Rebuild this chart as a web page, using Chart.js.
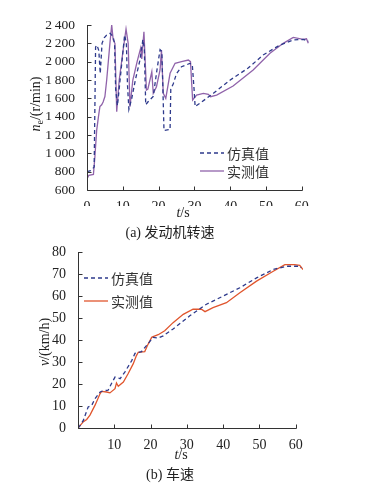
<!DOCTYPE html>
<html>
<head>
<meta charset="utf-8">
<script src="https://cdn.jsdelivr.net/npm/chart.js@4.4.1/dist/chart.umd.min.js"></script>
<style>
  body { margin: 0; background: #fff; }
  #wrap { position: relative; width: 376px; height: 487px; overflow: hidden; }
  canvas { position: absolute; left: 0; }
  .txt { position: absolute; white-space: nowrap; color: #222; font-family: "Liberation Serif", "Noto Sans CJK SC", serif; font-size: 14px; line-height: 1; }
  .ylab { transform: translate(-50%, -50%) rotate(-90deg); }
  .ctr { transform: translate(-50%, -50%); }
  .cjk { font-family: "Noto Sans CJK SC", sans-serif; }
  .leg { position: absolute; display: flex; align-items: center; font-family: "Noto Sans CJK SC", sans-serif; font-size: 14px; color: #333; line-height: 1; transform: translateY(-50%); }
  .leg svg { margin-right: 3px; }
</style>
</head>
<body>
<div id="wrap">
  <canvas id="engine" width="376" height="206" style="top:0"></canvas>
  <canvas id="speed" width="376" height="210" style="top:240px"></canvas>

  <div class="txt ylab" style="left:37px; top:104px"><i>n</i><sub style="font-size:10px">e</sub>/(r/min)</div>
  <div class="txt ctr" style="left:183px; top:213px"><i>t</i>/s</div>
  <div class="txt ctr" style="left:170px; top:232px">(a) <span class="cjk">发动机转速</span></div>

  <div class="leg" style="left:200px; top:153px"><svg width="24" height="6"><line x1="0" y1="3" x2="24" y2="3" stroke="#2e3a8c" stroke-width="1.3" stroke-dasharray="4,3"/></svg>仿真值</div>
  <div class="leg" style="left:200px; top:171px"><svg width="24" height="6"><line x1="0" y1="3" x2="24" y2="3" stroke="#9063aa" stroke-width="1.3"/></svg>实测值</div>

  <div class="txt ylab" style="left:45px; top:342px"><i>v</i>/(km/h)</div>
  <div class="txt ctr" style="left:181px; top:455px"><i>t</i>/s</div>
  <div class="txt ctr" style="left:170px; top:474px">(b) <span class="cjk">车速</span></div>

  <div class="leg" style="left:84px; top:278px"><svg width="24" height="6"><line x1="0" y1="3" x2="24" y2="3" stroke="#2e3a8c" stroke-width="1.3" stroke-dasharray="4,3"/></svg>仿真值</div>
  <div class="leg" style="left:84px; top:301px"><svg width="24" height="6"><line x1="0" y1="3" x2="24" y2="3" stroke="#e0552d" stroke-width="1.3"/></svg>实测值</div>
</div>

<script>
// (a) engine speed, r/min
const engSimT = [0, 1.0, 2.0, 2.2, 2.4, 2.8, 3.3, 3.7, 4.2, 4.8, 5.5, 6.5, 7.3, 7.7, 8.0, 8.5, 9.5, 10.5, 11.0, 11.3, 11.7, 12.5, 13.5, 14.8, 15.6, 16.0, 16.4, 17.0, 18.5, 19.5, 20.4, 20.9, 21.2, 21.5, 23.2, 23.4, 24.1, 25.0, 26.4, 28.7, 29.4, 29.9, 30.2, 32.0, 35.3, 40.0, 45.0, 49.2, 53.9, 57.6, 60.5, 61.8];
const engSim  = [800, 810, 850, 1500, 2160, 2180, 2120, 1870, 2200, 2260, 2290, 2310, 2270, 2200, 1700, 1520, 1900, 2290, 2200, 1750, 1480, 1600, 1800, 2020, 2240, 2150, 1530, 1560, 1620, 1900, 2130, 2110, 1700, 1250, 1260, 1700, 1760, 1870, 1945, 1980, 1970, 1700, 1510, 1560, 1655, 1800, 1930, 2073, 2182, 2236, 2243, 2222];
const engMeaT = [0, 0.5, 1.8, 2.2, 2.7, 3.2, 3.6, 4.1, 4.5, 5.0, 5.5, 6.4, 6.9, 7.3, 7.8, 8.3, 9.0, 10.0, 10.9, 11.5, 12.0, 12.8, 14.0, 15.0, 15.3, 15.9, 16.6, 17.0, 18.1, 18.5, 19.4, 20.4, 20.8, 21.3, 22.0, 23.2, 24.6, 26.4, 28.3, 28.9, 29.5, 30.6, 32.5, 33.9, 34.5, 36.2, 40.8, 46.4, 51.1, 54.8, 57.6, 60.4, 61.3, 61.8];
const engMea  = [720, 760, 770, 960, 1250, 1400, 1510, 1530, 1560, 1620, 1800, 2200, 2400, 2240, 2200, 1454, 1800, 2100, 2356, 2200, 1509, 1800, 2000, 2150, 2030, 2327, 1690, 1700, 1890, 1655, 1727, 1909, 2127, 1655, 1600, 1873, 1982, 2000, 2018, 2000, 1582, 1636, 1655, 1644, 1618, 1636, 1735, 1909, 2091, 2200, 2265, 2243, 2250, 2200];
const engTicksY = [600, 800, 1000, 1200, 1400, 1600, 1800, 2000, 2200, 2400];

// (b) vehicle speed, km/h
const velSimT = [0, 0.5, 1.5, 2.8, 3.8, 4.7, 6.1, 7.0, 8.3, 9.3, 10.2, 10.8, 11.6, 12.9, 14.8, 15.7, 17.5, 19.4, 20.7, 22.1, 23.5, 26.2, 30.8, 35.4, 40.0, 44.6, 49.2, 53.8, 57.4, 61.1, 61.5];
const velSim  = [0, 1.0, 3.6, 9.6, 10.4, 13.4, 16.4, 17.0, 17.2, 20.5, 23.2, 23.0, 22.5, 25.5, 30.7, 34.0, 34.8, 38.6, 41.3, 41.0, 42.0, 45.1, 51.1, 56.4, 60.1, 63.9, 68.4, 72.2, 73.7, 73.7, 73.0];
const velMeaT = [0, 1.5, 2.4, 3.3, 4.7, 6.1, 6.5, 7.9, 8.8, 10.2, 10.6, 11.1, 12.5, 13.8, 15.2, 16.1, 16.6, 18.4, 19.1, 20.3, 20.7, 22.1, 23.9, 26.2, 29.0, 31.7, 34.0, 35.0, 37.2, 40.9, 44.6, 49.2, 53.8, 57.0, 59.7, 61.1, 62.0];
const velMea  = [0, 2.9, 3.9, 5.9, 10.4, 15.7, 16.7, 16.4, 16.0, 17.9, 20.5, 19.0, 20.9, 24.7, 29.2, 33.0, 34.5, 34.8, 37.5, 41.3, 41.6, 42.5, 44.3, 48.0, 51.8, 54.1, 54.1, 53.0, 54.8, 57.1, 61.6, 66.9, 71.4, 74.4, 74.4, 74.1, 72.2];
const velTicksY = [0, 10, 20, 30, 40, 50, 60, 70, 80];

const tTicks = [0, 10, 20, 30, 40, 50, 60];
const T_AXIS_END = 60;   // the drawn axis stops at 60 s, the traces run a bit past it

const SIM_COLOR = '#2e3a8c';
const AXIS_COLOR = '#333';
const tickFont = { family: '"Liberation Serif", serif', size: 14 };

function pts(ts, vs) {
  return ts.map((t, i) => ({ x: t, y: vs[i] }));
}

// axis lines + inward ticks; x line ends at T_AXIS_END
const axesPlugin = {
  id: 'axesPlugin',
  afterDraw(chart) {
    const { ctx, chartArea: { left, top, bottom } } = chart;
    const xs = chart.scales.x, ys = chart.scales.y;
    const xEnd = Math.round(xs.getPixelForValue(T_AXIS_END)) + 0.5;
    const l = Math.round(left) + 0.5, b = Math.round(bottom) + 0.5;
    ctx.save();
    ctx.strokeStyle = AXIS_COLOR;
    ctx.lineWidth = 1;
    ctx.beginPath();
    ctx.moveTo(l, Math.round(top));
    ctx.lineTo(l, b);
    ctx.lineTo(xEnd, b);
    xs.ticks.forEach(t => {
      const px = Math.round(xs.getPixelForValue(t.value)) + 0.5;
      ctx.moveTo(px, b);
      ctx.lineTo(px, b - 4);
    });
    ys.ticks.forEach(t => {
      const py = Math.round(ys.getPixelForValue(t.value)) + 0.5;
      ctx.moveTo(l, py);
      ctx.lineTo(l + 4, py);
    });
    ctx.stroke();
    ctx.restore();
  }
};

function makeChart(id, opt) {
  return new Chart(document.getElementById(id), {
    type: 'line',
    data: {
      datasets: [
        {
          data: pts(opt.simT, opt.sim),
          borderColor: SIM_COLOR,
          borderWidth: 1.3,
          borderDash: [4, 3],
          pointRadius: 0
        },
        {
          data: pts(opt.meaT, opt.mea),
          borderColor: opt.meaColor,
          borderWidth: 1.3,
          pointRadius: 0
        }
      ]
    },
    options: {
      responsive: false,
      animation: false,
      events: [],
      layout: { padding: opt.padding },
      plugins: { legend: { display: false }, tooltip: { enabled: false } },
      scales: {
        x: {
          type: 'linear',
          min: 0, max: 62,
          afterFit: s => { s.height = opt.xHeight; },
          afterBuildTicks: s => { s.ticks = tTicks.map(v => ({ value: v })); },
          grid: { display: false },
          border: { display: false },
          ticks: {
            autoSkip: false,
            padding: 1,
            color: '#222',
            font: tickFont,
            maxRotation: 0,
            callback: v => (opt.hideX0 && v === 0) ? '' : v
          }
        },
        y: {
          min: opt.yMin, max: opt.yMax,
          afterFit: s => { s.width = opt.yWidth; },
          afterBuildTicks: s => { s.ticks = opt.yTicks.map(v => ({ value: v })); },
          grid: { display: false },
          border: { display: false },
          ticks: {
            autoSkip: false,
            padding: 4,
            color: '#222',
            font: opt.yFont || tickFont,
            callback: opt.yFmt
          }
        }
      }
    },
    plugins: [axesPlugin]
  });
}

function fmtThousands(v) {
  if (v < 1000) return String(v);
  const r = String(v % 1000).padStart(3, '0');
  return Math.floor(v / 1000) + '\u2009' + r;
}

makeChart('engine', {
  simT: engSimT, sim: engSim, meaT: engMeaT, mea: engMea,
  meaColor: '#9063aa',
  yMin: 600, yMax: 2400, yTicks: engTicksY, yFmt: fmtThousands,
  yFont: { family: '"Liberation Serif", serif', size: 13.5 },
  padding: { top: 25, right: 67, left: 0, bottom: 0 },
  yWidth: 87, xHeight: 16, hideX0: false
});

makeChart('speed', {
  simT: velSimT, sim: velSim, meaT: velMeaT, mea: velMea,
  meaColor: '#e0552d',
  yMin: 0, yMax: 80, yTicks: velTicksY, yFmt: v => v,
  padding: { top: 11, right: 73, left: 0, bottom: 0 },
  yWidth: 78, xHeight: 22, hideX0: true
});
</script>
</body>
</html>
